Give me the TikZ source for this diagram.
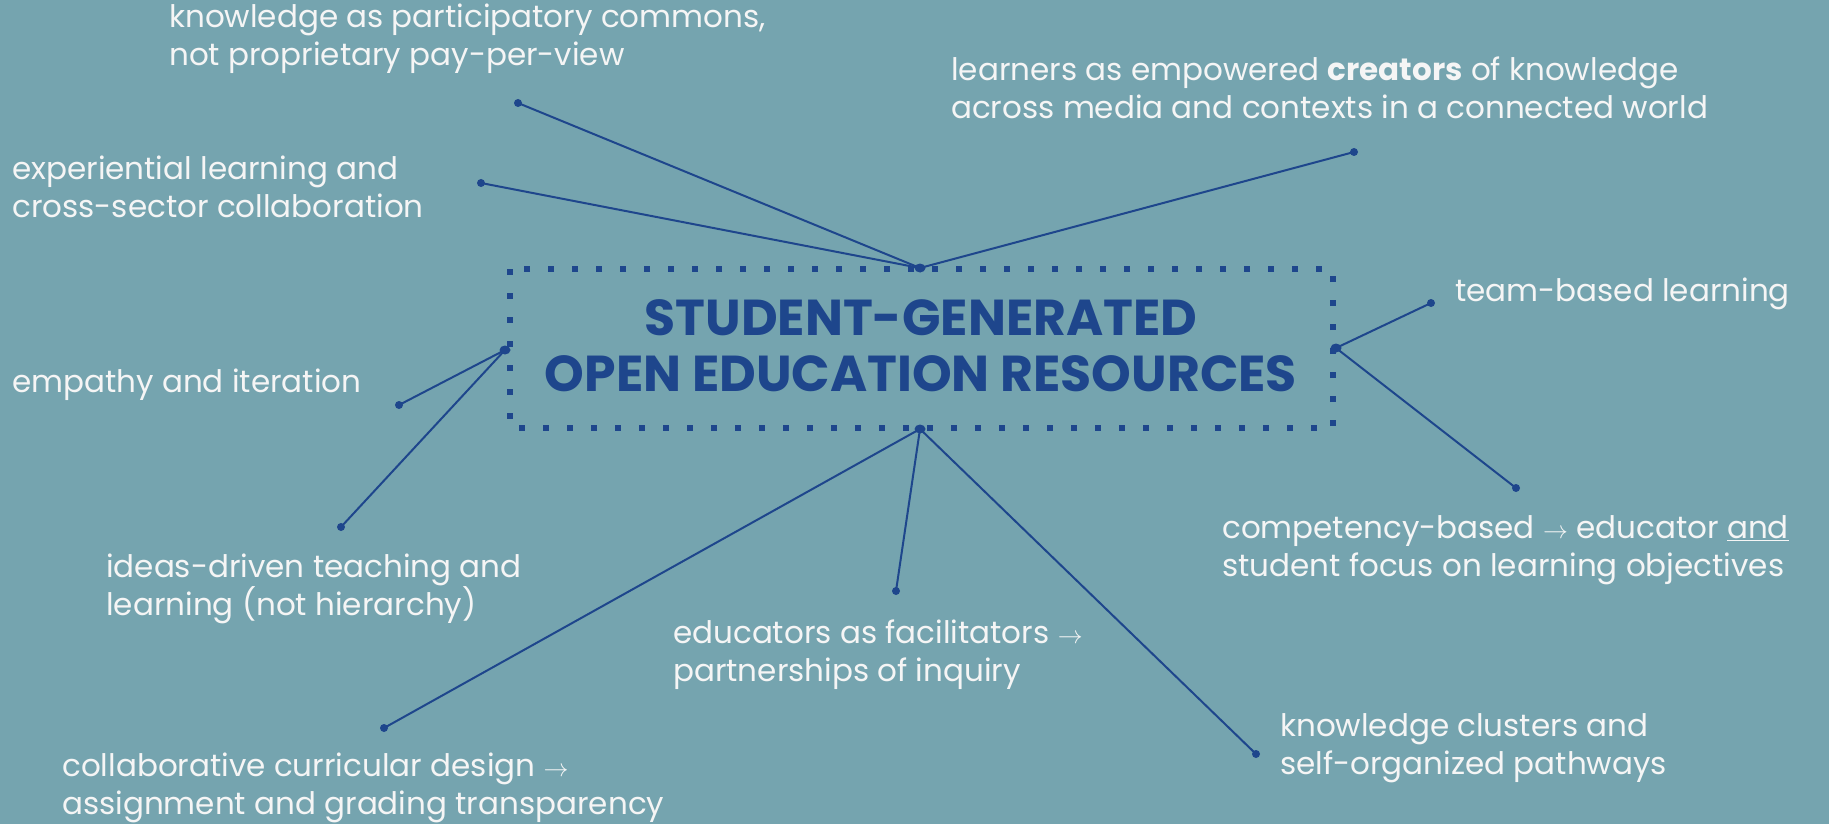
\documentclass[tikz,border=0pt]{standalone}
\usepackage{fontspec}
\setmainfont{Poppins}
\usetikzlibrary{shapes.geometric}
\definecolor{bg}{RGB}{117,164,175}
\definecolor{navy}{RGB}{30,70,140}
\definecolor{txt}{RGB}{245,245,245}
\tikzset{
  lbl/.style={text=txt, inner sep=0pt, align=left, anchor=west, font=\fontsize{31}{38}\selectfont},
  title/.style={text=navy, inner sep=0pt, align=center, font=\fontsize{50.5}{56}\selectfont\bfseries},
  enddot/.style={circle, fill=navy, inner sep=0pt, minimum size=8pt},
  hubdot/.style={ellipse, fill=navy, inner sep=0pt, minimum width=11pt, minimum height=9pt},
  link/.style={draw=navy, line width=2pt},
  dotbox/.style={draw=navy, line width=6pt, dash pattern=on 6pt off 18pt}
}
\begin{document}
\begin{tikzpicture}[x=1pt,y=-1pt]
\fill[bg] (0,0) rectangle (1829,824);
\useasboundingbox (0,0) rectangle (1829,824);

% central box
\draw[dotbox] (510,269) rectangle (1333,428);
\node[title] (t) at (921,346) {STUDENT-GENERATED\\OPEN EDUCATION RESOURCES};

% hubs
\node[hubdot] (hT) at (920,268) {};
\node[hubdot] (hL) at (505,350) {};
\node[hubdot] (hR) at (1336,348) {};
\node[hubdot] (hB) at (920,429) {};

% end dots
\node[enddot] (e1) at (518,103) {};
\node[enddot] (e2) at (481,183) {};
\node[enddot] (e3) at (1354,152) {};
\node[enddot] (e4) at (399,405) {};
\node[enddot] (e5) at (341,527) {};
\node[enddot] (e6) at (1431,303) {};
\node[enddot] (e7) at (1516,488) {};
\node[enddot] (e8) at (384,728) {};
\node[enddot] (e9) at (896,591) {};
\node[enddot] (e10) at (1256,754) {};

% connectors
\draw[link] (hT.center) -- (e1.center);
\draw[link] (hT.center) -- (e2.center);
\draw[link] (hT.center) -- (e3.center);
\draw[link] (hL.center) -- (e4.center);
\draw[link] (hL.center) -- (e5.center);
\draw[link] (hR.center) -- (e6.center);
\draw[link] (hR.center) -- (e7.center);
\draw[link] (hB.center) -- (e8.center);
\draw[link] (hB.center) -- (e9.center);
\draw[link] (hB.center) -- (e10.center);

% labels
\node[lbl] (l1) at (169,39) {knowledge as participatory commons,\\not proprietary pay-per-view};
\node[lbl] (l2) at (951,88) {learners as empowered \textbf{creators} of knowledge\\across media and contexts in a connected world};
\node[lbl] (l3) at (12,187) {experiential learning and\\cross-sector collaboration};
\node[lbl] (l4) at (1455,294) {team-based learning};
\node[lbl] (l5) at (12,385) {empathy and iteration};
\node[lbl] (l6) at (1222,550) {competency-based $\rightarrow$ educator \underline{and}\\student focus on learning objectives};
\node[lbl] (l7) at (106,589) {ideas-driven teaching and\\learning (not hierarchy)};
\node[lbl] (l8) at (673,655) {educators as facilitators $\rightarrow$\\partnerships of inquiry};
\node[lbl] (l9) at (1280,748) {knowledge clusters and\\self-organized pathways};
\node[lbl] (l10) at (62,788) {collaborative curricular design $\rightarrow$\\assignment and grading transparency};
\end{tikzpicture}
\end{document}
